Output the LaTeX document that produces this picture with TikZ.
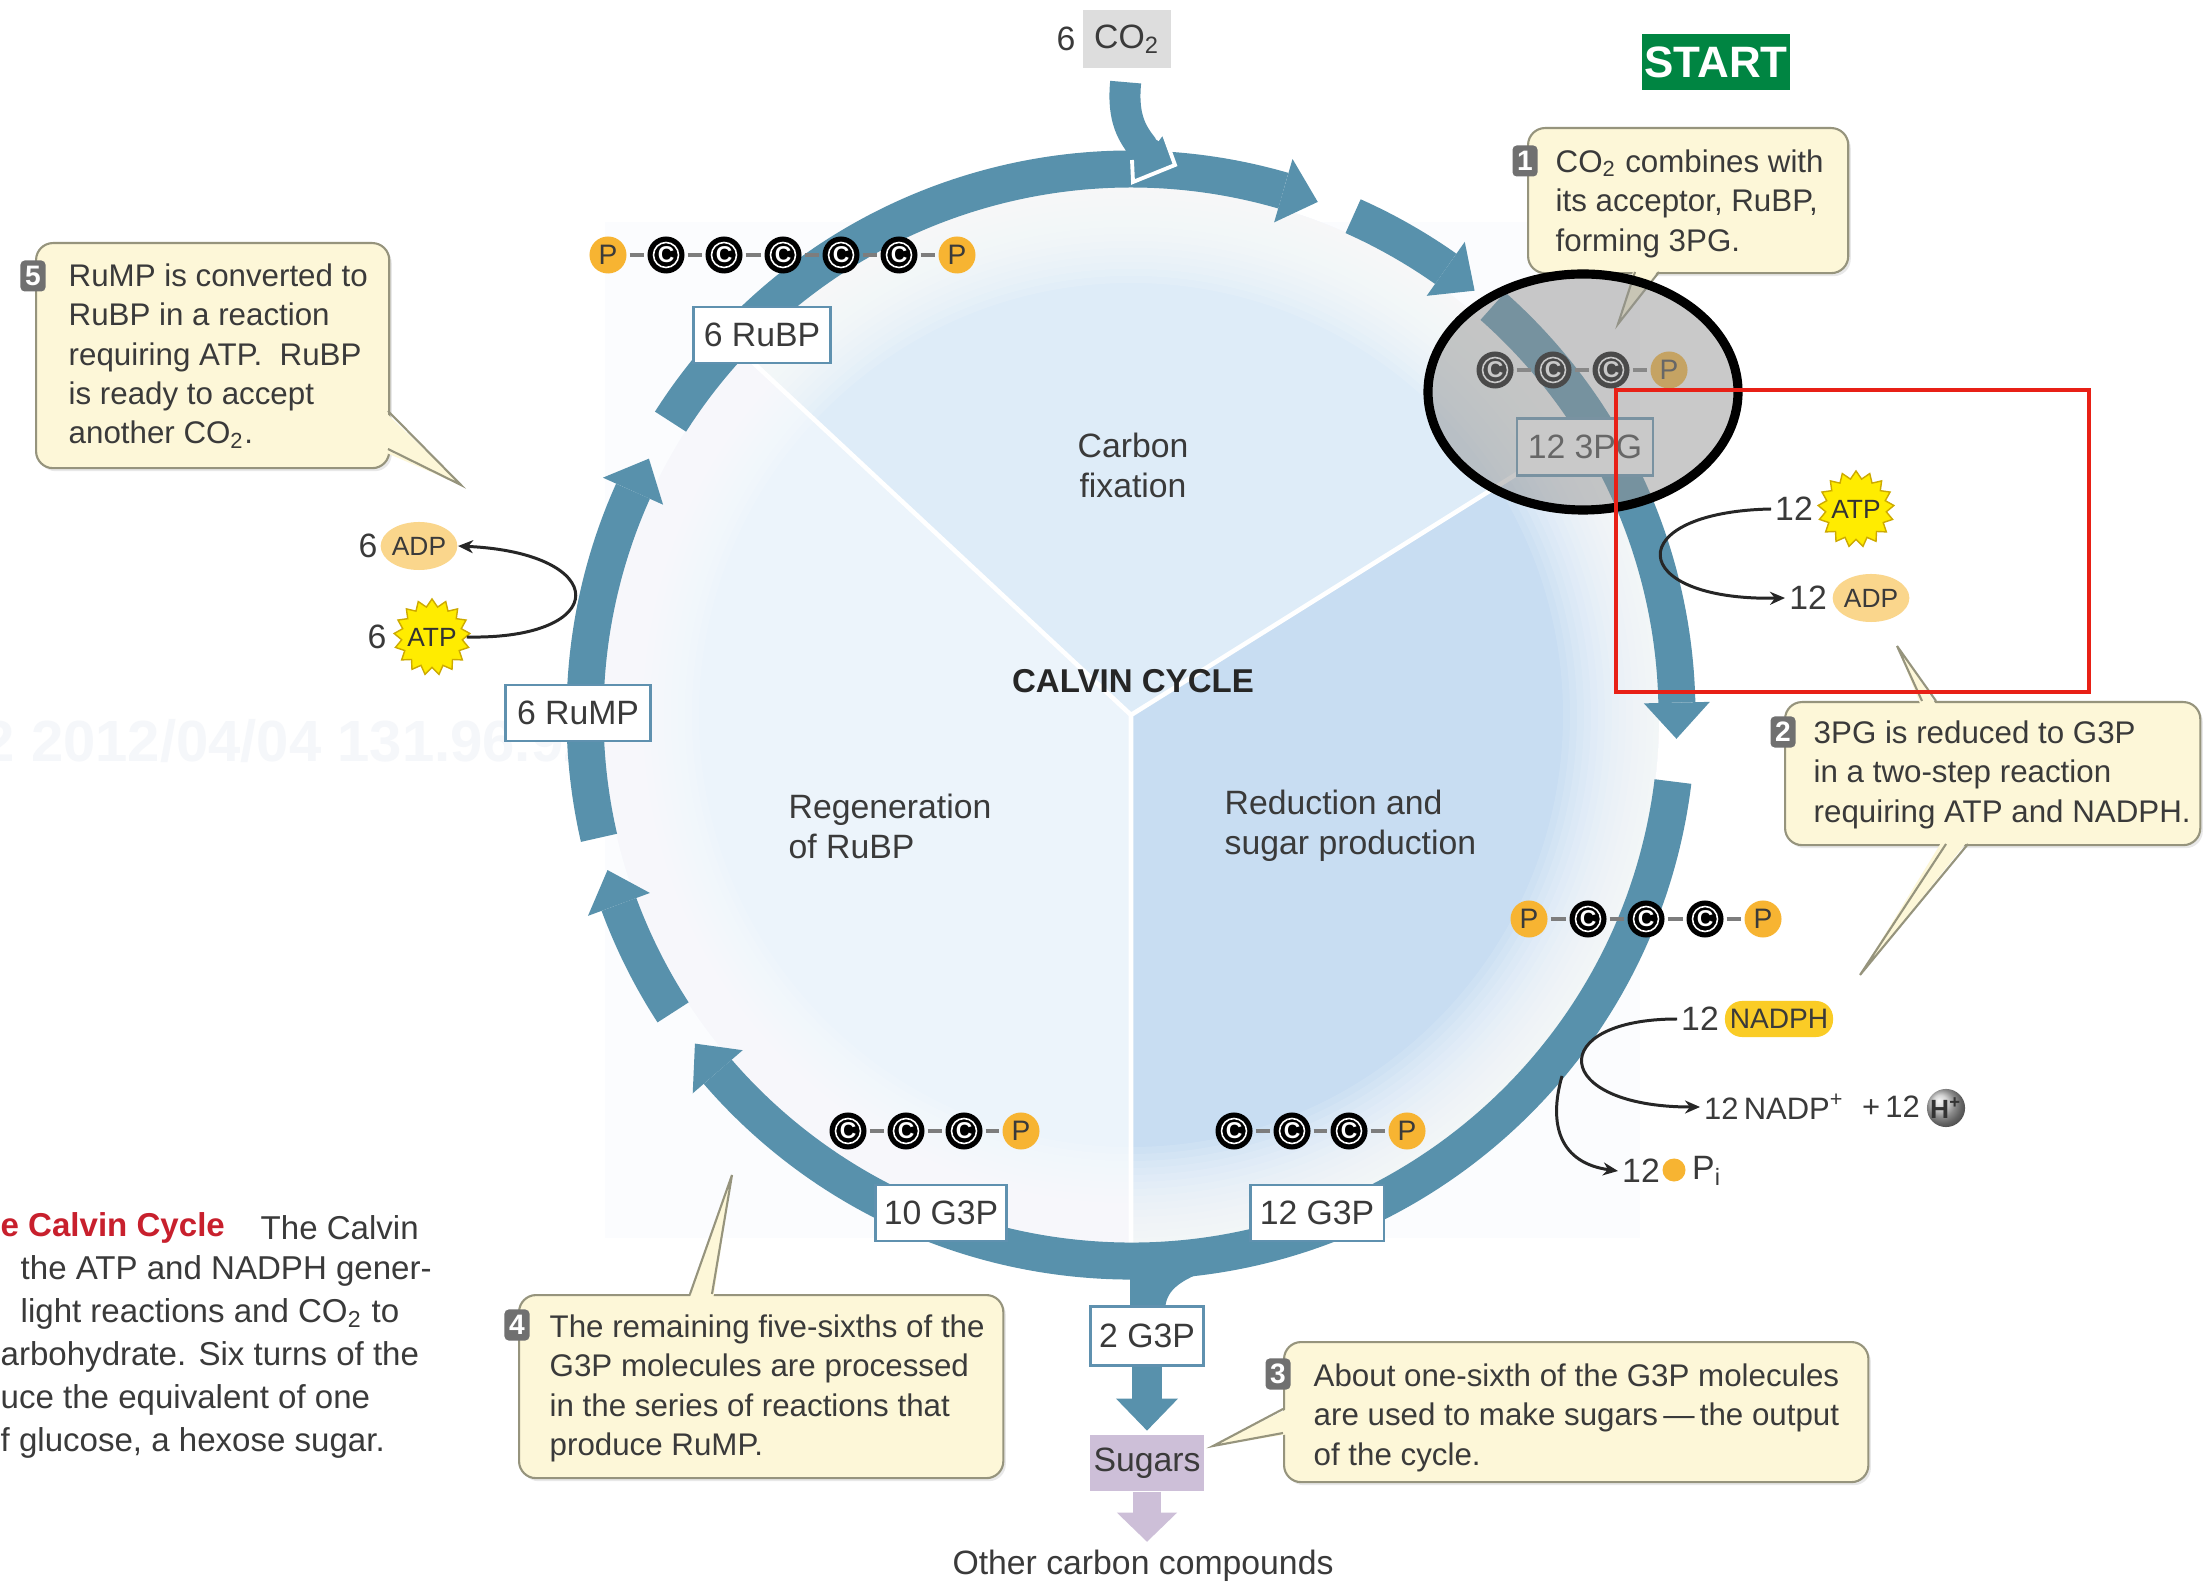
\documentclass[tikz,border=0pt]{standalone}
\usepackage{fontspec}
\setmainfont{Liberation Sans}
\usetikzlibrary{shapes.geometric,arrows.meta,shadows}
\definecolor{bandc}{RGB}{88,145,172}
\definecolor{secA}{RGB}{222,236,248}
\definecolor{secB}{RGB}{200,221,242}
\definecolor{secC}{RGB}{236,244,251}
\definecolor{bgrect}{RGB}{251,252,254}
\definecolor{wmark}{RGB}{245,247,250}
\definecolor{txt}{RGB}{58,58,58}
\definecolor{boxb}{RGB}{95,145,175}
\definecolor{callf}{RGB}{253,247,216}
\definecolor{callb}{RGB}{150,148,125}
\definecolor{badgec}{RGB}{112,112,112}
\definecolor{porange}{RGB}{247,180,50}
\definecolor{adpc}{RGB}{250,214,140}
\definecolor{atpy}{RGB}{255,236,0}
\definecolor{atpb}{RGB}{205,170,0}
\definecolor{nadphc}{RGB}{250,204,38}
\definecolor{lav}{RGB}{205,191,216}
\definecolor{startg}{RGB}{0,133,66}
\definecolor{capred}{RGB}{200,32,45}
\definecolor{co2g}{RGB}{221,221,221}
\definecolor{bondg}{RGB}{125,125,125}
\definecolor{redbox}{RGB}{232,32,22}
\newcommand{\fCall}{\fontsize{8.9}{11.2}\selectfont}
\newcommand{\fLbl}{\fontsize{9.6}{11.5}\selectfont}
\newcommand{\fSec}{\fontsize{9.6}{11.4}\selectfont}
\newcommand{\fCap}{\fontsize{9.4}{12}\selectfont}
\newcommand{\fAtom}{\fontsize{6.5}{7}\selectfont\bfseries}
\newcommand{\fAtomP}{\fontsize{8}{9}\selectfont}
\newcommand{\fSm}{\fontsize{7.5}{9}\selectfont}
\newcommand{\fNum}{\fontsize{9.6}{11.5}\selectfont}
\newcommand{\fBadge}{\fontsize{8}{9}\selectfont\bfseries}
\begin{document}
\begin{tikzpicture}[x=0.01cm, y=-0.01cm,
 band/.style={draw=bandc, line width=0.37cm},
 lbl/.style={draw=boxb, line width=0.6pt, fill=white, inner sep=0pt, font=\fLbl, text=txt},
 call/.style={fill=callf, draw=callb, line width=0.6pt, rounded corners=0.17cm, inner sep=0pt, anchor=north west,
   drop shadow={opacity=0.18, shadow xshift=0.025cm, shadow yshift=-0.03cm}},
 ptr/.style={draw=callb, line width=0.6pt},
 ctext/.style={anchor=north west, inner sep=0pt, align=left, font=\fCall, text=txt},
 badge/.style={fill=badgec, rounded corners=1.2pt, text=white, font=\fBadge, minimum width=0.25cm, minimum height=0.31cm, inner sep=0pt},
 catom/.style={circle, fill=black, minimum size=0.37cm, inner sep=0pt, text=white, font=\fAtom, path picture={\draw[white, line width=0.45pt] (path picture bounding box.center) circle (0.125cm);}},
 patom/.style={circle, fill=porange, minimum size=0.37cm, inner sep=0pt, text=txt, font=\fAtomP},
 bond/.style={draw=bondg, line width=0.9pt, shorten <=0.025cm, shorten >=0.025cm},
 thinarr/.style={draw=black!85, line width=0.85pt, -{Stealth[length=0.15cm, width=0.13cm]}},
 num/.style={inner sep=1pt, font=\fNum, text=txt},
 atpstar/.style={star, star points=17, star point ratio=1.25, minimum size=0.76cm, inner sep=0pt, fill=atpy, draw=atpb, line width=0.4pt},
 smalltxt/.style={inner sep=0pt, font=\fSm, text=black!80},
 adpell/.style={ellipse, fill=adpc, minimum width=0.66cm, minimum height=0.48cm, inner sep=0pt, font=\fSm, text=txt},
 sectxt/.style={inner sep=0pt, font=\fSec, text=txt},
 captxt/.style={anchor=west, inner sep=0pt, font=\fCap, text=txt}
]
\useasboundingbox (0,0) rectangle (2206,1586);
\fill[white] (0,0) rectangle (2206,1586);
\fill[bgrect] (605,222) rectangle (1640,1238);
\node[anchor=west, inner sep=0pt, font=\fontsize{16.5}{18}\selectfont\bfseries, text=wmark] (wm) at (-18,741) {2 2012/04/04 131.96.92.235};

% ---------------- cycle disc and ring
\begin{scope}[shift={(1131,715)}]
 \fill[secA] (0,0) -- (-32:528) arc[start angle=-32, end angle=-137, radius=528] -- cycle;
 \fill[secB] (0,0) -- (90:528) arc[start angle=90, end angle=-32, radius=528] -- cycle;
 \fill[secC] (0,0) -- (-137:528) arc[start angle=-137, end angle=-270, radius=528] -- cycle;
 \foreach \k in {1,...,14}
   \fill[white, opacity=0.12, even odd rule] (0,0) circle[radius=530] (0,0) circle[radius={530-7*\k}];
 \draw[white, line width=1.3pt] (0,0) -- (-32:528) (0,0) -- (-137:528) (0,0) -- (90:528);
 \foreach \a/\b in {-147.5/-70, -66/-51, -48.5/2.5, 7/143, 147/163.5, 167/208} {
   \draw[band] (\a:546) arc[start angle=\a, end angle={\b-3.8}, radius=546];
   \fill[bandc] ({\b-3.8}:513) -- (\b:546) -- ({\b-3.8}:579) -- cycle;
 }
\end{scope}

\node[sectxt, align=center] (fix) at (1133,465) {Carbon\\fixation};
\node[inner sep=0pt, font=\fontsize{9.4}{11}\selectfont\bfseries, text=black!85] (calvin) at (1133,681) {CALVIN CYCLE};
\node[sectxt, align=left, anchor=west] (regen) at (788,826) {Regeneration\\of RuBP};
\node[sectxt, align=left, anchor=west] (reduc) at (1224,826) {Reduction and\\sugar production};

% ---------------- output stem
\fill[bandc] (1130,1252) -- (1130,1312) -- (1165,1312) .. controls (1165,1292) and (1176,1281) .. (1214,1268) -- (1214,1250) -- cycle;

% ---------------- CO2 input
\node[fill=co2g, minimum width=0.88cm, minimum height=0.57cm, inner sep=0pt, font=\fLbl, text=txt] (co2) at (1127,39) {CO\textsubscript{2}};
\node[num] (n6co2) at (1066,39) {6};
\coordinate (co2in) at (1145,150);
\draw[bandc, line width=0.31cm, shorten <=0.14cm] (co2.south) .. controls (1122,120) and (1133,135) .. (co2in);
\fill[bandc] (1132,158) -- (1133,182) -- (1175,165) -- (1163,132) -- (1157,140) -- cycle;
\draw[white, line width=1.1pt, line join=miter] (1132,160) -- (1133,182) -- (1175,165) -- (1163,132) -- (1157,140);

\node[fill=startg, text=white, font=\fontsize{12.5}{14}\selectfont\bfseries, minimum width=1.48cm, minimum height=0.56cm, inner sep=0pt] (start) at (1716,62) {START};

% ---------------- label boxes on ring
\node[lbl, minimum width=1.37cm, minimum height=0.56cm] (rubp6) at (762,335) {6 RuBP};
\node[lbl, minimum width=1.36cm, minimum height=0.57cm] (pg12) at (1585,447) {12 3PG};
\node[lbl, minimum width=1.45cm, minimum height=0.56cm] (rump6) at (578,713) {6 RuMP};
\node[lbl, minimum width=1.31cm, minimum height=0.56cm] (g3p10) at (941,1213) {10 G3P};
\node[lbl, minimum width=1.33cm, minimum height=0.56cm] (g3p12) at (1317,1213) {12 G3P};
\node[lbl, minimum width=1.13cm, minimum height=0.59cm] (g3p2) at (1147,1336) {2 G3P};
\node[fill=lav, minimum width=1.13cm, minimum height=0.56cm, inner sep=0pt, font=\fLbl, text=txt] (sugars) at (1147,1463) {Sugars};
\node[inner sep=0pt, font=\fLbl, text=txt] (other) at (1143,1566) {Other carbon compounds};

\draw[bandc, line width=0.3cm] (g3p2.south) -- ++(0,33);
\fill[bandc] ([xshift=-0.31cm, yshift=-0.32cm]g3p2.south) -- ([yshift=-0.64cm]g3p2.south) -- ([xshift=0.31cm, yshift=-0.32cm]g3p2.south) -- cycle;
\draw[lav, line width=0.28cm] (sugars.south) -- ++(0,22);
\fill[lav] ([xshift=-0.3cm, yshift=-0.21cm]sugars.south) -- ([yshift=-0.5cm]sugars.south) -- ([xshift=0.3cm, yshift=-0.21cm]sugars.south) -- cycle;

% ---------------- molecule chains
\node[patom] (rb1) at (608,255) {P};
\node[catom] (rb2) at (666,255) {C};
\node[catom] (rb3) at (724,255) {C};
\node[catom] (rb4) at (783,255) {C};
\node[catom] (rb5) at (841,255) {C};
\node[catom] (rb6) at (899,255) {C};
\node[patom] (rb7) at (957,255) {P};
\foreach \i/\j in {1/2,2/3,3/4,4/5,5/6,6/7} \draw[bond] (rb\i) -- (rb\j);

\node[catom] (pg1) at (1495,370) {C};
\node[catom] (pg2) at (1553,370) {C};
\node[catom] (pg3) at (1611,370) {C};
\node[patom] (pg4) at (1669,370) {P};
\foreach \i/\j in {1/2,2/3,3/4} \draw[bond] (pg\i) -- (pg\j);

\node[patom] (rc1) at (1529,919) {P};
\node[catom] (rc2) at (1588,919) {C};
\node[catom] (rc3) at (1646,919) {C};
\node[catom] (rc4) at (1705,919) {C};
\node[patom] (rc5) at (1763,919) {P};
\foreach \i/\j in {1/2,2/3,3/4,4/5} \draw[bond] (rc\i) -- (rc\j);

\node[catom] (lc1) at (848,1131) {C};
\node[catom] (lc2) at (906,1131) {C};
\node[catom] (lc3) at (964,1131) {C};
\node[patom] (lc4) at (1021,1131) {P};
\foreach \i/\j in {1/2,2/3,3/4} \draw[bond] (lc\i) -- (lc\j);

\node[catom] (mc1) at (1234,1131) {C};
\node[catom] (mc2) at (1292,1131) {C};
\node[catom] (mc3) at (1349,1131) {C};
\node[patom] (mc4) at (1407,1131) {P};
\foreach \i/\j in {1/2,2/3,3/4} \draw[bond] (mc\i) -- (mc\j);

% ---------------- callout 1 (under magnifier)
\node[call, minimum width=3.20cm, minimum height=1.45cm] (c1) at (1527,127) {};
\fill[callf] (1634,268) -- (1618,324) -- (1660,268) -- cycle;
\draw[ptr] (1635,272) -- (1618,324) -- (1659,272);
\node[badge] (b1) at (1525,161) {1};
\node[ctext] (t1) at (1555,149) {CO\textsubscript{2} combines with\\its acceptor, RuBP,\\forming 3PG.};

% ---------------- magnifier
\fill[black!42, opacity=0.5] (1583,392) ellipse[x radius=155, y radius=118];
\draw[black, line width=2.6pt] (1583,392) ellipse[x radius=155, y radius=118];

% ---------------- callout 2
\node[call, minimum width=4.15cm, minimum height=1.43cm] (c2) at (1784,701) {};
\fill[callf] (1921,706) -- (1897,646) -- (1937,706) -- cycle;
\draw[ptr] (1922,701) -- (1897,646) -- (1936,701);
\fill[callf] (1944,838) -- (1860,975) -- (1970,838) -- cycle;
\draw[ptr] (1946,844) -- (1860,975) -- (1968,844);
\node[badge] (b2) at (1783,732) {2};
\node[ctext] (t2) at (1813,720) {3PG is reduced to G3P\\in a two-step reaction\\requiring ATP and NADPH.};

% ---------------- callout 3
\node[call, minimum width=5.84cm, minimum height=1.40cm] (c3) at (1283,1341) {};
\fill[callf] (1289,1408) -- (1213,1446) -- (1289,1434) -- cycle;
\draw[ptr] (1283,1409) -- (1213,1446) -- (1283,1433);
\node[badge] (b3) at (1278,1374) {3};
\node[ctext] (t3) at (1313,1363) {About one-sixth of the G3P molecules\\are used to make sugars\,—\,the output\\of the cycle.};

% ---------------- callout 4
\node[call, minimum width=4.84cm, minimum height=1.83cm] (c4) at (518,1294) {};
\fill[callf] (689,1300) -- (732,1175) -- (713,1300) -- cycle;
\draw[ptr] (690,1294) -- (732,1175) -- (712,1294);
\node[badge] (b4) at (517,1325) {4};
\node[ctext] (t4) at (549,1314) {The remaining five-sixths of the\\G3P molecules are processed\\in the series of reactions that\\produce RuMP.};

% ---------------- callout 5
\node[call, minimum width=3.53cm, minimum height=2.25cm] (c5) at (35,242) {};
\fill[callf] (382,409) -- (461,485) -- (382,451) -- cycle;
\draw[ptr] (388,411) -- (461,485) -- (388,449);
\node[badge] (b5) at (33,276) {5};
\node[ctext] (t5) at (68,263) {RuMP is converted to\\RuBP in a reaction\\requiring ATP.\ \ RuBP\\is ready to accept\\another CO\textsubscript{2}.};

% ---------------- ATP / ADP, NADPH
\node[num] (n12atp) at (1794,509) {12};
\node[atpstar] (atp12) at (1856,509) {};
\node[smalltxt] (atp12t) at (1856,509) {ATP};
\node[num] (n12adp) at (1808,598) {12};
\node[adpell] (adp12) at (1871,598) {ADP};
\draw[thinarr] (n12atp.west) .. controls (1620,512) and (1625,601) .. (n12adp.west);

\node[num] (n6adp) at (368,546) {6};
\node[adpell] (adp6) at (419,546) {ADP};
\node[num] (n6atp) at (377,637) {6};
\node[atpstar] (atp6) at (432,637) {};
\node[smalltxt] (atp6t) at (432,637) {ATP};
\draw[thinarr] (atp6.east) .. controls (612,640) and (612,553) .. (adp6.east);

\node[num] (n12nadph) at (1700,1019) {12};
\node[fill=nadphc, rounded corners=0.17cm, minimum width=1.08cm, minimum height=0.36cm, inner sep=0pt, font=\fontsize{8}{9}\selectfont, text=txt] (nadph) at (1779,1019) {NADPH};
\node[num, anchor=west, font=\fontsize{8.8}{10}\selectfont] (nadpp) at (1700,1107) {12\,NADP\textsuperscript{+}};
\node[num, anchor=west, font=\fontsize{8.8}{10}\selectfont] (plus12) at (1858,1107) {+\,12};
\node[circle, shading=ball, ball color=gray!45, minimum size=0.38cm, inner sep=0pt, font=\fontsize{7.5}{8}\selectfont\bfseries, text=black!80] (hplus) at (1946,1108) {H\textsuperscript{+}};
\draw[thinarr] (n12nadph.west) .. controls (1545,1019) and (1550,1107) .. (nadpp.west);

\node[num] (n12pi) at (1641,1171) {12};
\node[circle, fill=porange, minimum size=0.23cm, inner sep=0pt] (pidot) at (1674,1170) {};
\node[num, anchor=west] (pi) at (1688,1171) {P\textsubscript{i}};
\coordinate (pistart) at (1562,1076);
\draw[thinarr] (pistart) .. controls (1548,1125) and (1560,1163) .. (n12pi.west);

% ---------------- caption (cut at left edge)
\node[captxt, font=\fCap\bfseries, text=capred] (cap1a) at (0,1228) {e Calvin Cycle};
\node[captxt] (cap1b) at (260,1228) {The Calvin};
\node[captxt] (cap2) at (20,1271) {the ATP and NADPH gener-};
\node[captxt] (cap3) at (20,1314) {light reactions and CO\textsubscript{2} to};
\node[captxt] (cap4) at (0,1357) {arbohydrate. Six turns of the};
\node[captxt] (cap5) at (0,1400) {uce the equivalent of one};
\node[captxt] (cap6) at (0,1443) {f glucose, a hexose sugar.};

% ---------------- red highlight
\draw[redbox, line width=1.3pt] (1616,390) rectangle (2089,692);
\end{tikzpicture}
\end{document}
